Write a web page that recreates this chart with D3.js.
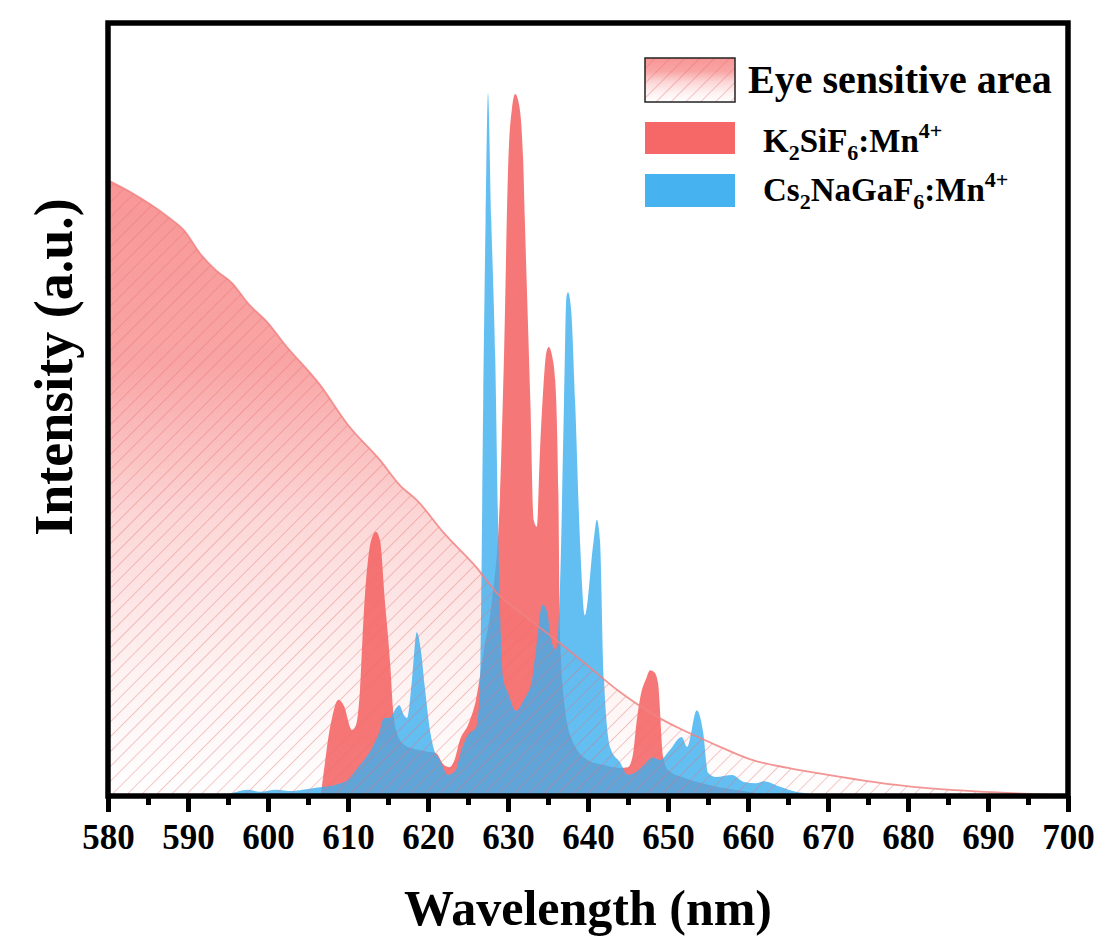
<html>
<script src='https://cdnjs.cloudflare.com/ajax/libs/d3/7.8.5/d3.min.js'></script>
<style>
body { margin: 0; background: #ffffff; }
text { font-family: 'Liberation Serif', 'Times New Roman', serif; font-weight: bold; fill: #000; }
</style>
<body>
<svg width=1107 height=943></svg>
<script>

// eye sensitivity curve
var eyeWl  = [580, 583, 587.5, 589.5, 591.5, 593.5, 595.5, 597.5, 600, 602, 606.5, 610, 614, 616.5, 618.6, 622, 626, 628.6, 632, 636, 640, 644, 649.4, 652.4, 656.5, 660.6, 665, 670, 680.6, 685, 693, 700];
var eyeVal = [0.876, 0.858, 0.824, 0.805, 0.772, 0.748, 0.730, 0.701, 0.673, 0.644, 0.585, 0.528, 0.478, 0.442, 0.421, 0.374, 0.326, 0.289, 0.257, 0.222, 0.185, 0.148, 0.108, 0.091, 0.070, 0.051, 0.040, 0.030, 0.013, 0.009, 0.004, 0.001];

// K2SiF6:Mn4+
var kWl  = [580, 606, 606.5, 607, 607.5, 608, 608.8, 609.5, 610.5, 611, 611.5, 612, 612.5, 613, 613.5, 614, 614.6, 615.3, 615.6, 616, 617, 618, 619, 620, 621, 622, 622.7, 623.3, 624, 625, 626, 627, 628, 629, 629.5, 630, 630.5, 630.9, 631.4, 631.9, 632.1, 632.8, 633.2, 633.6, 634, 634.4, 634.8, 635.1, 635.5, 635.9, 636.3, 636.5, 637, 638, 640, 642, 644, 645, 645.6, 646.1, 646.6, 647.3, 647.75, 648.3, 648.75, 649.4, 650, 652, 655, 660, 665, 700];
var kVal = [0, 0, 0, 0.037, 0.080, 0.111, 0.137, 0.128, 0.094, 0.101, 0.151, 0.265, 0.336, 0.368, 0.376, 0.364, 0.279, 0.184, 0.127, 0.094, 0.073, 0.068, 0.065, 0.063, 0.061, 0.044, 0.041, 0.051, 0.080, 0.101, 0.137, 0.208, 0.279, 0.428, 0.626, 0.888, 0.979, 0.999, 0.983, 0.905, 0.822, 0.559, 0.393, 0.383, 0.492, 0.578, 0.632, 0.639, 0.627, 0.592, 0.428, 0.232, 0.137, 0.080, 0.051, 0.044, 0.040, 0.041, 0.058, 0.108, 0.144, 0.168, 0.179, 0.176, 0.161, 0.055, 0.037, 0.026, 0.016, 0.006, 0, 0];

// Cs2NaGaF6:Mn4+
var csWl  = [580, 593, 595, 597.5, 599, 601, 603, 605, 607, 608.5, 610, 611, 612, 613, 614, 614.5, 615.2, 616, 616.4, 617, 617.4, 618, 618.6, 619.1, 619.6, 620.3, 620.7, 621.5, 622.5, 623.5, 624, 625, 626, 626.5, 626.9, 627.2, 627.5, 627.9, 628.4, 628.8, 629.4, 630, 631, 632, 633, 633.5, 634.3, 634.9, 635.4, 636, 636.5, 637, 637.3, 637.5, 637.9, 638.4, 639, 639.6, 640.7, 641.1, 641.5, 642, 642.8, 644, 645, 646, 647, 648.1, 649, 650.2, 651.7, 652.4, 653.6, 654.4, 655, 656, 658, 659.5, 661, 662, 664, 666, 668, 670, 700];
var csVal = [0, 0, 0.003, 0.009, 0.006, 0.009, 0.007, 0.010, 0.013, 0.016, 0.023, 0.037, 0.051, 0.068, 0.094, 0.111, 0.111, 0.125, 0.129, 0.115, 0.111, 0.165, 0.233, 0.208, 0.155, 0.090, 0.068, 0.051, 0.030, 0.037, 0.058, 0.087, 0.097, 0.151, 0.559, 0.822, 1.0, 0.822, 0.626, 0.363, 0.166, 0.147, 0.121, 0.137, 0.165, 0.208, 0.272, 0.262, 0.222, 0.208, 0.297, 0.559, 0.710, 0.717, 0.691, 0.559, 0.363, 0.257, 0.363, 0.393, 0.363, 0.166, 0.068, 0.048, 0.030, 0.034, 0.044, 0.055, 0.051, 0.065, 0.084, 0.070, 0.122, 0.090, 0.033, 0.027, 0.030, 0.020, 0.018, 0.021, 0.013, 0.006, 0.003, 0, 0];

var xTicks = [580, 590, 600, 610, 620, 630, 640, 650, 660, 670, 680, 690, 700];
var xMinor = [585, 595, 605, 615, 625, 635, 645, 655, 665, 675, 685, 695];

var legendNames = ['Eye sensitive area', 'K2SiF6:Mn4+', 'Cs2NaGaF6:Mn4+'];

var redCol = '#f55f5f';
var blueCol = '#3cafef';

var svg = d3.select('svg');
var xs = d3.scaleLinear().domain([580, 700]).range([108, 1068]);
var ys = d3.scaleLinear().domain([0, 1.1]).range([796, 23]);

function pairs(wl, v) { return wl.map(function(d, i) { return [d, v[i]]; }); }

var defs = svg.append('defs');
var grad = defs.append('linearGradient').attr('id', 'eyeGrad')
  .attr('x1', 0).attr('y1', 0).attr('x2', 0).attr('y2', 1);
grad.append('stop').attr('offset', '0%').attr('stop-color', 'rgb(248,150,150)');
grad.append('stop').attr('offset', '30%').attr('stop-color', 'rgb(249,165,165)');
grad.append('stop').attr('offset', '55%').attr('stop-color', 'rgb(252,215,215)');
grad.append('stop').attr('offset', '80%').attr('stop-color', 'rgb(254,242,242)');
grad.append('stop').attr('offset', '100%').attr('stop-color', 'rgb(255,255,255)');

var hatch = defs.append('pattern').attr('id', 'hatch')
  .attr('patternUnits', 'userSpaceOnUse').attr('width', 10.5).attr('height', 10.5)
  .attr('patternTransform', 'rotate(45)');
hatch.append('line').attr('x1', 0).attr('y1', 0).attr('x2', 0).attr('y2', 10.5)
  .attr('stroke', 'rgb(232,110,110)').attr('stroke-width', 1.2).attr('stroke-opacity', 0.65);

defs.append('clipPath').attr('id', 'plotClip').append('rect')
  .attr('x', 108).attr('y', 23).attr('width', 960).attr('height', 773);

var area = d3.area().curve(d3.curveMonotoneX)
  .x(function(d) { return xs(d[0]); })
  .y0(ys(0))
  .y1(function(d) { return ys(d[1]); });
var line = d3.line().curve(d3.curveMonotoneX)
  .x(function(d) { return xs(d[0]); })
  .y(function(d) { return ys(d[1]); });

var eye = pairs(eyeWl, eyeVal);
var plot = svg.append('g').attr('clip-path', 'url(#plotClip)');

// eye area gradient
plot.append('path').datum(eye).attr('d', area).attr('fill', 'url(#eyeGrad)');

// spectra
plot.append('path').datum(pairs(kWl, kVal)).attr('d', area)
  .attr('fill', redCol).attr('fill-opacity', 0.85);
plot.append('path').datum(pairs(csWl, csVal)).attr('d', area)
  .attr('fill', blueCol).attr('fill-opacity', 0.8);

// hatch + outline on top
plot.append('path').datum(eye).attr('d', area).attr('fill', 'url(#hatch)');
plot.append('path').datum(eye).attr('d', line)
  .attr('fill', 'none').attr('stroke', 'rgb(240,130,130)').attr('stroke-width', 1.8).attr('stroke-opacity', 0.85);

// axes
var ax = svg.append('g').attr('transform', 'translate(0,796)')
  .call(d3.axisBottom(xs).tickValues(xTicks).tickSize(16).tickPadding(12).tickFormat(d3.format('d')));
ax.select('.domain').remove();
ax.selectAll('.tick line').attr('stroke', '#000').attr('stroke-width', 5);
ax.selectAll('.tick text').style('font-size', '35px').style('font-family', "'Liberation Serif', serif").style('font-weight', 'bold');

var axm = svg.append('g').attr('transform', 'translate(0,796)')
  .call(d3.axisBottom(xs).tickValues(xMinor).tickSize(9).tickFormat(''));
axm.select('.domain').remove();
axm.selectAll('.tick line').attr('stroke', '#000').attr('stroke-width', 5);

// frame
svg.append('rect').attr('x', 108).attr('y', 23).attr('width', 960).attr('height', 773)
  .attr('fill', 'none').attr('stroke', '#000').attr('stroke-width', 5.5);

// titles
svg.append('text')
  .attr('x', 588).attr('y', 925)
  .style('text-anchor', 'middle').style('font-size', '50px')
  .text('Wavelength (nm)');

svg.append('text')
  .attr('transform', 'translate(72,367) rotate(-90)')
  .style('text-anchor', 'middle').style('font-size', '54px')
  .text('Intensity (a.u.)');

// legend
var lg = svg.append('g');
lg.append('rect').attr('x', 645).attr('y', 58).attr('width', 90).attr('height', 44).attr('fill', 'url(#eyeGrad)');
lg.append('rect').attr('x', 645).attr('y', 58).attr('width', 90).attr('height', 44).attr('fill', 'url(#hatch)')
  .attr('stroke', '#222').attr('stroke-width', 1.5);
lg.append('text').attr('x', 748).attr('y', 93).style('font-size', '40px').text(legendNames[0]);

lg.append('rect').attr('x', 645).attr('y', 122).attr('width', 90).attr('height', 32).attr('fill', redCol).attr('fill-opacity', 0.95);
lg.append('rect').attr('x', 645).attr('y', 174).attr('width', 90).attr('height', 33).attr('fill', blueCol).attr('fill-opacity', 0.95);

function chem(t, x, y, parts) {
  var tx = lg.append('text').attr('x', x).attr('y', y).style('font-size', '33px');
  parts.forEach(function(p) {
    var s = tx.append('tspan').text(p[0]);
    if (p[1] == 'sub') s.style('font-size', '22px').attr('dy', 8);
    if (p[1] == 'sup') s.style('font-size', '22px').attr('dy', -14);
    if (p[1] == 'back') s.attr('dy', -8);
  });
  return tx;
}
chem(legendNames[1], 763, 152, [['K'], ['2', 'sub'], ['SiF', 'back'], ['6', 'sub'], [':Mn', 'back'], ['4+', 'sup']]);
chem(legendNames[2], 763, 201, [['Cs'], ['2', 'sub'], ['NaGaF', 'back'], ['6', 'sub'], [':Mn', 'back'], ['4+', 'sup']]);

</script>
</body>
</html>
